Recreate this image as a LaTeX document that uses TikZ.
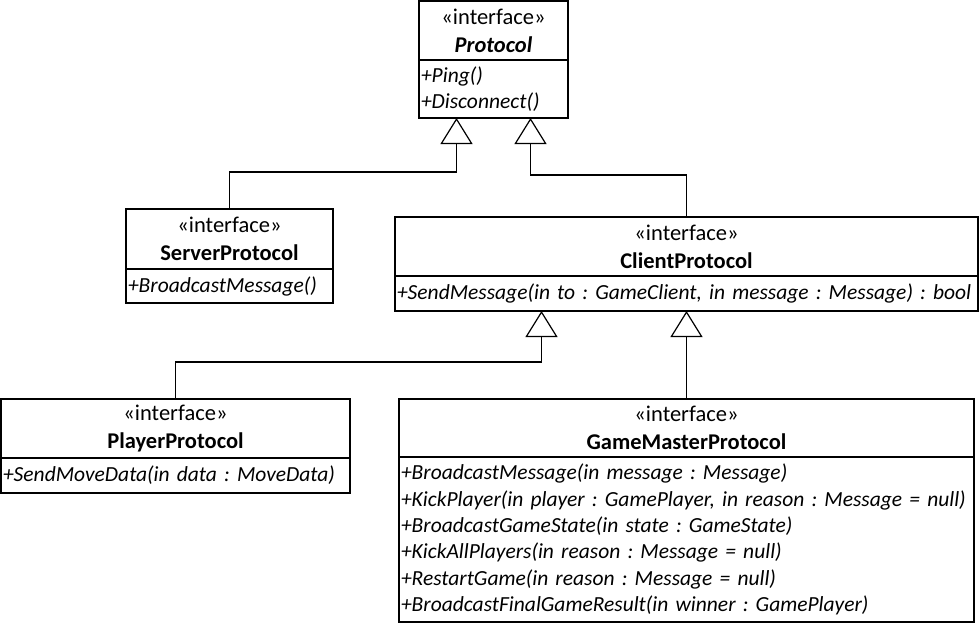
\documentclass[tikz,border=0pt]{standalone}
\usepackage{fontspec}
\setmainfont{Carlito}
\frenchspacing
\usetikzlibrary{arrows.meta, positioning}
\tikzset{
    headBox/.style={
        rectangle, draw, line width=1.6pt, outer sep=0pt,
        inner sep=0pt, align=center,
        font=\fontsize{22.5}{28}\selectfont
    },
    opsBox/.style={
        rectangle, draw, line width=1.6pt, outer sep=0pt,
        inner xsep=2pt, inner ysep=0pt, align=left,
        font=\fontsize{21.5}{26.4}\selectfont\itshape
    },
    inherit/.style={
        -{Triangle[open, length=26pt, width=32pt, line join=miter]},
        line width=1.2pt
    }
}

\begin{document}
\begin{tikzpicture}[x=1pt, y=-1pt]

	\useasboundingbox (0,0) rectangle (980,624);

	% =========================================================
	% Base interface
	% =========================================================

	\node [headBox, anchor=north west, minimum width=149pt, minimum height=59pt] (protoHead) at (419,1) {
		«interface»\\
		\textbf{\textit{Protocol}}
	};
	\node [opsBox, below=0pt of protoHead, minimum width=149pt, text width=145pt, minimum height=58pt] (protoOps) {
		+Ping()\\
		+Disconnect()
	};

	% =========================================================
	% Second level
	% =========================================================

	\node [headBox, anchor=north west, minimum width=207pt, minimum height=60pt] (srvHead) at (126,209) {
		«interface»\\
		\textbf{ServerProtocol}
	};
	\node [opsBox, below=0pt of srvHead, minimum width=207pt, text width=203pt, minimum height=34pt] (srvOps) {
		+BroadcastMessage()
	};

	\node [headBox, anchor=north west, minimum width=583pt, minimum height=59pt] (clientHead) at (395,217) {
		«interface»\\
		\textbf{ClientProtocol}
	};
	\node [opsBox, below=0pt of clientHead, minimum width=583pt, text width=579pt, minimum height=35pt] (clientOps) {
		+SendMessage(in to : GameClient, in message : Message) : bool
	};

	% =========================================================
	% Third level
	% =========================================================

	\node [headBox, anchor=north west, minimum width=349pt, minimum height=59pt] (playerHead) at (1,399) {
		«interface»\\
		\textbf{PlayerProtocol}
	};
	\node [opsBox, below=0pt of playerHead, minimum width=349pt, text width=345pt, minimum height=35pt] (playerOps) {
		+SendMoveData(in data : MoveData)
	};

	\node [headBox, anchor=north west, minimum width=575pt, minimum height=58pt] (gmHead) at (399,399) {
		«interface»\\
		\textbf{GameMasterProtocol}
	};
	\node [opsBox, below=0pt of gmHead, minimum width=575pt, text width=571pt, minimum height=165pt] (gmOps) {
		+BroadcastMessage(in message : Message)\\
		+KickPlayer(in player : GamePlayer, in reason : Message = null)\\
		+BroadcastGameState(in state : GameState)\\
		+KickAllPlayers(in reason : Message = null)\\
		+RestartGame(in reason : Message = null)\\
		+BroadcastFinalGameResult(in winner : GamePlayer)
	};

	% =========================================================
	% Generalizations
	% =========================================================

	\draw [inherit] (srvHead.north) -- ++(0,-37) -| ([xshift=-37pt]protoOps.south);
	\draw [inherit] (clientHead.north) -- ++(0,-42) -| ([xshift=37pt]protoOps.south);
	\draw [inherit] (playerHead.north) -- ++(0,-37) -| ([xshift=-145pt]clientOps.south);
	\draw [inherit] (gmHead.north) -- (clientOps.south);

\end{tikzpicture}
\end{document}
